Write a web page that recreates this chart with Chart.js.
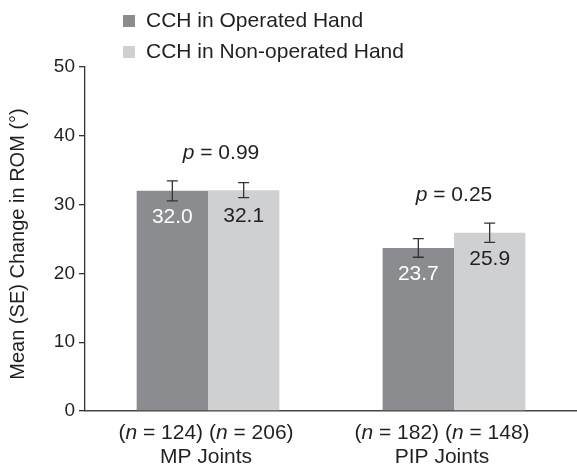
<!DOCTYPE html>
<html lang="en">
<head>
    <meta charset="UTF-8">
    <title>Change in ROM</title>
    <script src="https://cdn.jsdelivr.net/npm/chart.js"></script>
    <style>
        body { margin: 0; padding: 0; background: #fff; }
        #wrap { width: 577px; height: 470px; }
    </style>
</head>
<body>
    <div id="wrap"><canvas id="romChart"></canvas></div>

    <script>
        // Data
        const categories = ['MP Joints', 'PIP Joints'];
        const seriesNames = ['CCH in Operated Hand', 'CCH in Non-operated Hand'];
        const operated = [32.0, 23.7];
        const nonOperated = [32.1, 25.9];
        const operatedSE = [1.45, 1.35];
        const nonOperatedSE = [1.1, 1.4];
        const sampleSizes = [[124, 206], [182, 148]];
        const pValues = ['0.99', '0.25'];
        const yTicks = [0, 10, 20, 30, 40, 50];

        const FONT = '"Liberation Sans", Arial, Helvetica, sans-serif';
        const INK = '#231f20';
        const colors = ['#8b8c8f', '#cfd0d2'];
        const labelColors = ['#ffffff', '#231f20'];
        const errors = [operatedSE, nonOperatedSE];
        // small hand nudges so the annotations sit where the figure has them
        const pShift = [13, 0];
        const groupShift = [-2, -12];

        // draw a line of text made of [text, italic] parts, centred on x
        function drawParts(ctx, parts, x, y, size) {
            let total = 0;
            parts.forEach(p => {
                ctx.font = (p[1] ? 'italic ' : '') + size + 'px ' + FONT;
                total += ctx.measureText(p[0]).width;
            });
            let cx = x - total / 2;
            ctx.textAlign = 'left';
            parts.forEach(p => {
                ctx.font = (p[1] ? 'italic ' : '') + size + 'px ' + FONT;
                ctx.fillText(p[0], cx, y);
                cx += ctx.measureText(p[0]).width;
            });
        }

        const extras = {
            id: 'extras',
            afterDatasetsDraw(chart) {
                const ctx = chart.ctx;
                const yScale = chart.scales.y;
                ctx.save();
                ctx.fillStyle = INK;
                ctx.textBaseline = 'middle';

                // error bars + value labels
                chart.data.datasets.forEach((ds, di) => {
                    const meta = chart.getDatasetMeta(di);
                    meta.data.forEach((bar, i) => {
                        const v = ds.data[i];
                        const se = errors[di][i];
                        const top = yScale.getPixelForValue(v + se);
                        const bot = yScale.getPixelForValue(v - se);
                        ctx.strokeStyle = '#333';
                        ctx.lineWidth = 1.3;
                        ctx.beginPath();
                        ctx.moveTo(bar.x, top); ctx.lineTo(bar.x, bot);
                        ctx.moveTo(bar.x - 5.5, top); ctx.lineTo(bar.x + 5.5, top);
                        ctx.moveTo(bar.x - 5.5, bot); ctx.lineTo(bar.x + 5.5, bot);
                        ctx.stroke();

                        ctx.fillStyle = labelColors[di];
                        ctx.font = '21px ' + FONT;
                        ctx.textAlign = 'center';
                        ctx.fillText(v.toFixed(1), bar.x, bar.y + 26);
                    });
                });

                // p values and group labels
                ctx.fillStyle = INK;
                const m0 = chart.getDatasetMeta(0), m1 = chart.getDatasetMeta(1);
                categories.forEach((cat, i) => {
                    const b0 = m0.data[i], b1 = m1.data[i];
                    const cx = (b0.x + b1.x) / 2;
                    const topErr = Math.min(
                        yScale.getPixelForValue(operated[i] + operatedSE[i]),
                        yScale.getPixelForValue(nonOperated[i] + nonOperatedSE[i]));
                    drawParts(ctx, [['p', true], [' = ' + pValues[i], false]], cx + pShift[i], topErr - 28, 21);

                    const n = sampleSizes[i];
                    drawParts(ctx, [['(', false], ['n', true], [' = ' + n[0] + ') (', false], ['n', true], [' = ' + n[1] + ')', false]],
                        cx + groupShift[i], 433, 21);
                    drawParts(ctx, [[cat, false]], cx + groupShift[i], 457, 21);
                });

                // legend
                seriesNames.forEach((name, i) => {
                    const y = 21 + i * 31;
                    ctx.fillStyle = colors[i];
                    ctx.fillRect(123, y - 6, 12, 12);
                    ctx.fillStyle = INK;
                    ctx.font = '21px ' + FONT;
                    ctx.textAlign = 'left';
                    ctx.fillText(name, 146, y);
                });

                // y axis title
                ctx.translate(18, 244);
                ctx.rotate(-Math.PI / 2);
                ctx.textAlign = 'center';
                ctx.font = '20px ' + FONT;
                ctx.fillText('Mean (SE) Change in ROM (\u00b0)', 0, 0);
                ctx.restore();
            }
        };

        new Chart(document.getElementById('romChart'), {
            type: 'bar',
            data: {
                labels: categories,
                datasets: [
                    { label: seriesNames[0], data: operated, backgroundColor: colors[0] },
                    { label: seriesNames[1], data: nonOperated, backgroundColor: colors[1] }
                ]
            },
            options: {
                responsive: true,
                maintainAspectRatio: false,
                animation: false,
                layout: { padding: { top: 67, right: 0, left: 0, bottom: 0 } },
                datasets: { bar: { categoryPercentage: 0.58, barPercentage: 1.0 } },
                plugins: {
                    legend: { display: false },
                    tooltip: { enabled: false }
                },
                scales: {
                    x: {
                        grid: { display: false },
                        border: { display: true, color: '#444', width: 1.5 },
                        ticks: { display: false },
                        afterFit: (s) => { s.height = 59; }
                    },
                    y: {
                        min: 0,
                        max: 50,
                        afterBuildTicks: (s) => { s.ticks = yTicks.map(v => ({ value: v })); },
                        grid: { drawOnChartArea: false, drawTicks: true, tickLength: 6, color: '#333', lineWidth: 1.3 },
                        border: { display: true, color: '#333', width: 1.3 },
                        ticks: { color: INK, padding: 4, font: { family: FONT, size: 19 } },
                        afterFit: (s) => { s.width = 85; }
                    }
                }
            },
            plugins: [extras]
        });
    </script>
</body>
</html>
